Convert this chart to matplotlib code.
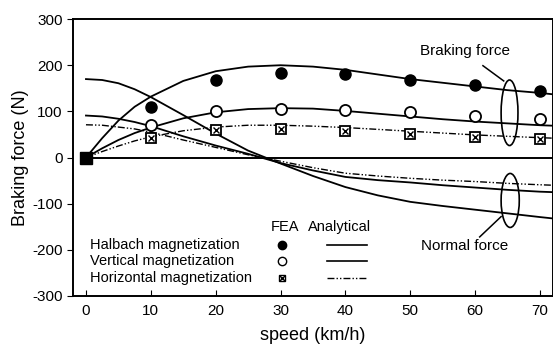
import matplotlib
matplotlib.use("Agg")
import matplotlib.pyplot as plt
from matplotlib.patches import Ellipse

plt.rcParams['font.family'] = ['Liberation Sans', 'DejaVu Sans']
plt.rcParams['axes.unicode_minus'] = False

# FEA points
speed_fea = [0, 10, 20, 30, 40, 50, 60, 70]
halbach_fea = [0, 110, 168, 183, 181, 167, 157, 145]
vertical_fea = [0, 70, 101, 106, 103, 98, 89, 83]
horizontal_fea = [0, 43, 60, 62, 57, 50, 45, 40]

# analytical curves
speed_an = [0, 2.5, 5, 7.5, 10, 15, 20, 25, 30, 35, 40, 45, 50, 55, 60, 65, 70, 72]
halbach_brake = [0, 42, 80, 110, 132, 166, 187, 197, 200, 197, 190, 180, 170, 162, 154, 146, 140, 137]
vertical_brake = [0, 20, 38, 53, 65, 85, 98, 105, 107, 106, 101, 95, 89, 83, 78, 74, 70, 69]
horizontal_brake = [0, 13, 25, 36, 45, 58, 66, 70, 70, 68, 65, 61, 57, 53, 49, 46, 43, 42]
halbach_normal = [170, 168, 161, 148, 131, 92, 52, 15, -13, -40, -64, -82, -96, -105, -113, -121, -129, -132]
vertical_normal = [91, 89, 84, 77, 68, 46, 26, 8, -12, -28, -42, -49, -54, -60, -65, -70, -74, -75]
horizontal_normal = [71, 70, 66, 62, 55, 38, 22, 6, -8, -22, -34, -40, -45, -49, -52, -56, -59, -60]

fig = plt.figure(figsize=(5.53, 3.47), dpi=100)
ax = fig.add_axes([0.132, 0.147, 0.868, 0.798])

lw = 1.3
dashdot = (0, (5, 1.5, 1, 1.5, 1, 1.5))
ax.plot([0, 72], [0, 0], color='black', lw=1.4)
ax.plot(speed_an, halbach_brake, color='black', lw=lw)
ax.plot(speed_an, vertical_brake, color='black', lw=lw)
ax.plot(speed_an, horizontal_brake, color='black', lw=1.0, ls=dashdot)
ax.plot(speed_an, halbach_normal, color='black', lw=lw)
ax.plot(speed_an, vertical_normal, color='black', lw=lw)
ax.plot(speed_an, horizontal_normal, color='black', lw=1.0, ls=dashdot)

ax.plot(speed_fea, halbach_fea, 'o', color='black', ms=8, ls='none')
ax.plot(speed_fea, vertical_fea, 'o', mfc='white', mec='black', mew=1.3, ms=8, ls='none')
ax.plot(speed_fea, horizontal_fea, 's', mfc='white', mec='black', mew=1.3, ms=7, ls='none')
ax.plot(speed_fea, horizontal_fea, 'x', color='black', mew=1.0, ms=5, ls='none')
ax.plot([0], [0], 's', color='black', ms=9)

# annotations
ax.add_patch(Ellipse((65.3, 97), 2.6, 142, fill=False, ec='black', lw=1.2))
ax.add_patch(Ellipse((65.4, -93), 2.8, 117, fill=False, ec='black', lw=1.2))
ax.text(58.4, 231, 'Braking force', ha='center', va='center', fontsize=11)
ax.plot([61.2, 64.4], [199, 166], color='black', lw=1.1)
ax.text(58.4, -191, 'Normal force', ha='center', va='center', fontsize=11)
ax.plot([60.7, 64.0], [-172, -128], color='black', lw=1.1)

# legend drawn by hand
labels = ['Halbach magnetization', 'Vertical magnetization', 'Horizontal magnetization']
rows = [-190, -225, -261]
ax.text(30.7, -150, 'FEA', ha='center', va='center', fontsize=10.5)
ax.text(39.1, -150, 'Analytical', ha='center', va='center', fontsize=10.5)
for lab, yy in zip(labels, rows):
    ax.text(0.6, yy, lab, ha='left', va='center', fontsize=10.5)
ax.plot([30.2], [rows[0]], 'o', color='black', ms=6)
ax.plot([30.2], [rows[1]], 'o', mfc='white', mec='black', ms=6)
ax.plot([30.2], [rows[2]], 's', mfc='white', mec='black', ms=5)
ax.plot([30.2], [rows[2]], 'x', color='black', ms=4)
ax.plot([37.1, 43.3], [rows[0], rows[0]], color='black', lw=1.2)
ax.plot([37.1, 43.3], [rows[1], rows[1]], color='black', lw=1.2)
ax.plot([37.1, 43.3], [rows[2], rows[2]], color='black', lw=1.0, ls=dashdot)

ax.set_xlim(-2, 72)
ax.set_ylim(-300, 300)
ax.set_xticks(range(0, 71, 10))
ax.set_yticks(range(-300, 301, 100))
ax.tick_params(axis='x', direction='in', length=4, labelsize=11, pad=6)
ax.tick_params(axis='y', direction='out', length=4, labelsize=11)
for s in ax.spines.values():
    s.set_linewidth(1.4)
ax.set_xlabel('speed (km/h)', fontsize=13, labelpad=6)
ax.set_ylabel('Braking force (N)', fontsize=13, labelpad=2)

fig.savefig('out.png', dpi=100)
